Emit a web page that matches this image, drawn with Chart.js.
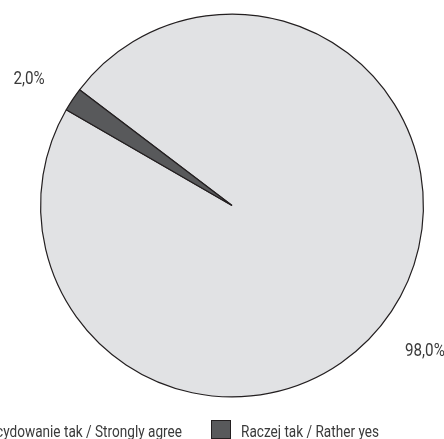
<!DOCTYPE html>
<html>
<head>
<meta charset="utf-8">
<script src="https://cdn.jsdelivr.net/npm/chart.js@4"></script>
<style>
  html, body { margin: 0; padding: 0; background: #fff; overflow: hidden; }
  #chart { display: block; }
</style>
</head>
<body>
<canvas id="chart" width="444" height="439"></canvas>
<script>
const labels = ["Zdecydowanie tak / Strongly agree", "Raczej tak / Rather yes"];
const values = [98.0, 2.0];
const colors = ["#e1e2e4", "#58595b"];

const FONT = '"Roboto", "Liberation Sans", sans-serif';
const SQUEEZE = 0.8; // the reference uses a condensed face

function formatPct(v, total) {
  return (v / total * 100).toFixed(1).replace(".", ",") + "%";
}

function narrowText(ctx, text, x, y) {
  ctx.save();
  ctx.translate(x, y);
  ctx.scale(SQUEEZE, 1);
  ctx.fillText(text, 0, 0);
  ctx.restore();
}

// value labels outside each slice
const outsideLabels = {
  id: "outsideLabels",
  afterDatasetsDraw(chart, args, opts) {
    const ctx = chart.ctx;
    const meta = chart.getDatasetMeta(0);
    const total = values.reduce((a, b) => a + b, 0);
    ctx.save();
    ctx.font = "19px " + FONT;
    ctx.fillStyle = "#3a3a3a";
    ctx.textAlign = "center";
    ctx.textBaseline = "middle";
    meta.data.forEach((arc, i) => {
      const p = arc.getProps(["x", "y", "startAngle", "endAngle", "outerRadius"], true);
      const mid = (p.startAngle + p.endAngle) / 2;
      const d = p.outerRadius * 1.235;
      const nudge = opts.nudge[i] || [0, 0];
      narrowText(ctx, formatPct(values[i], total),
        p.x + Math.cos(mid) * d + nudge[0],
        p.y + Math.sin(mid) * d + nudge[1]);
    });
    ctx.restore();
  }
};

// legend row along the bottom (first item runs off the left edge)
const bottomLegend = {
  id: "bottomLegend",
  afterDraw(chart, args, opts) {
    const ctx = chart.ctx;
    ctx.save();
    ctx.font = "17px " + FONT;
    ctx.textBaseline = "alphabetic";
    const widths = labels.map(l => ctx.measureText(l).width * SQUEEZE);
    let x = opts.secondBoxX - opts.itemGap - widths[0] - opts.textGap;
    labels.forEach((l, i) => {
      ctx.fillStyle = colors[i];
      ctx.strokeStyle = "#231f20";
      ctx.lineWidth = 1;
      ctx.fillRect(x, opts.boxY, opts.boxW, opts.boxH);
      ctx.strokeRect(x + 0.5, opts.boxY + 0.5, opts.boxW - 1, opts.boxH - 1);
      x += opts.textGap;
      ctx.fillStyle = "#3a3a3a";
      narrowText(ctx, l, x, opts.baseline);
      x += widths[i] + opts.itemGap;
    });
    ctx.restore();
  }
};

new Chart(document.getElementById("chart"), {
  type: "pie",
  data: {
    labels: labels,
    datasets: [{
      data: values,
      backgroundColor: colors,
      borderColor: "#231f20",
      borderWidth: 1.2
    }]
  },
  options: {
    responsive: false,
    animation: false,
    rotation: -52.8,
    layout: { padding: { top: 13, bottom: 41, left: 40, right: 20 } },
    plugins: {
      legend: { display: false },
      tooltip: { enabled: false },
      outsideLabels: { nudge: [[-4, 15], [-6, 5]] },
      bottomLegend: { secondBoxX: 211, boxY: 420, boxW: 20, boxH: 19, textGap: 30, itemGap: 29, baseline: 437 }
    }
  },
  plugins: [outsideLabels, bottomLegend]
});
</script>
</body>
</html>
